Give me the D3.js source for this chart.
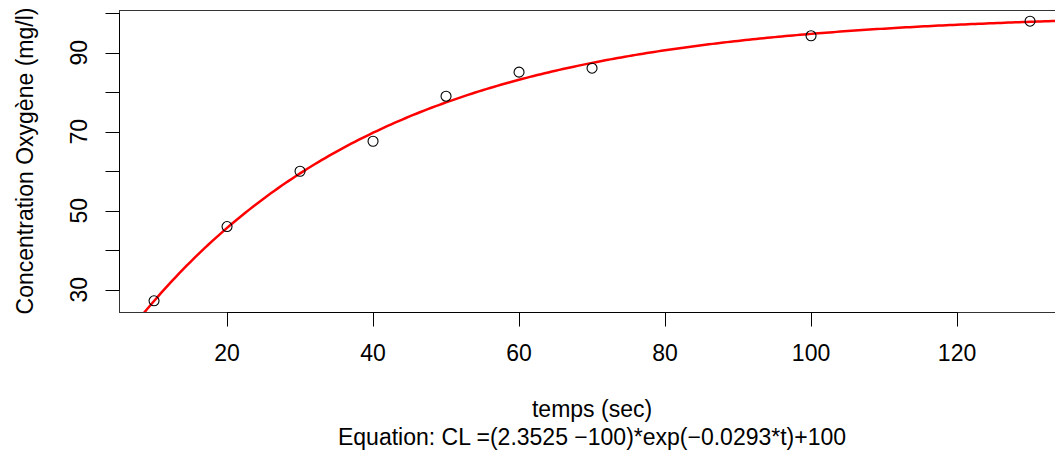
<!DOCTYPE html>
<html>
<head>
<meta charset="utf-8">
<script src="https://cdn.jsdelivr.net/npm/d3@7"></script>
<style>
  body { margin: 0; background: #fff; }
  text { font-family: "Liberation Sans", Arial, sans-serif; fill: #000; }
</style>
</head>
<body>
<div id="chart"></div>
<script>
// Measured points: time (sec) and oxygen concentration (mg/l)
const temps = [10, 20, 30, 40, 50, 60, 70, 100, 130];
const concentration = [27.2, 46, 60, 67.6, 79, 85.1, 86.1, 94.3, 98];

// Fitted model shown under the chart: CL = (c0 - cInf)*exp(-k*t) + cInf
const c0 = 2.3525;
const cInf = 100;
const k = 0.0293;

// Axis ticks
const xTicks = [20, 40, 60, 80, 100, 120];
const yTicks = [30, 40, 50, 60, 70, 80, 90, 100];
const yLabels = [30, 50, 70, 90];

const W = 1055, H = 455;
const fontSize = 23;
// plot region (right side runs past the picture edge)
const plotLeft = 119, plotTop = 10, plotBottom = 312;

// R style 4% extension of the data range
function extend(ext) {
    const r = ext[1] - ext[0];
    return [ext[0] - 0.04 * r, ext[1] + 0.04 * r];
}
const xDom = extend(d3.extent(temps));
const yDom = extend(d3.extent(concentration));

// x scale: 7.3 px per second, as in the picture
const pxPerSec = 7.3;
const plotRight = plotLeft + (xDom[1] - xDom[0]) * pxPerSec;

const x = d3.scaleLinear().domain(xDom).range([plotLeft, plotRight]);
const y = d3.scaleLinear().domain(yDom).range([plotBottom, plotTop]);

const svg = d3.select("#chart").append("svg")
    .attr("width", W)
    .attr("height", H);

svg.append("defs").append("clipPath")
    .attr("id", "plotclip")
    .append("rect")
    .attr("x", plotLeft).attr("y", plotTop)
    .attr("width", plotRight - plotLeft).attr("height", plotBottom - plotTop);

// fitted curve
const curveData = d3.range(0, 141, 0.5).map(t => [t, (c0 - cInf) * Math.exp(-k * t) + cInf]);
const line = d3.line().x(d => x(d[0])).y(d => y(d[1]));

svg.append("path")
    .datum(curveData)
    .attr("clip-path", "url(#plotclip)")
    .attr("d", line)
    .attr("fill", "none")
    .attr("stroke", "#ff0000")
    .attr("stroke-width", 2.5);

// points
svg.selectAll(".pt")
    .data(temps.map((t, i) => [t, concentration[i]]))
    .enter().append("circle")
    .attr("class", "pt")
    .attr("cx", d => x(d[0]))
    .attr("cy", d => y(d[1]))
    .attr("r", 5)
    .attr("fill", "none")
    .attr("stroke", "#000")
    .attr("stroke-width", 1.1);

// box
svg.append("rect")
    .attr("x", plotLeft + 0.5).attr("y", plotTop + 0.5)
    .attr("width", plotRight - plotLeft).attr("height", plotBottom - plotTop)
    .attr("fill", "none")
    .attr("stroke", "#333")
    .attr("stroke-width", 1);

// x axis
const xAxis = svg.append("g").attr("transform", `translate(0,${plotBottom + 0.5})`);
xAxis.append("line")
    .attr("x1", x(xTicks[0])).attr("x2", x(xTicks[xTicks.length - 1]))
    .attr("stroke", "#000");
xAxis.selectAll(".xt").data(xTicks).enter().append("line")
    .attr("x1", d => Math.round(x(d)) + 0.5).attr("x2", d => Math.round(x(d)) + 0.5)
    .attr("y1", 0).attr("y2", 14)
    .attr("stroke", "#000");
xAxis.selectAll(".xl").data(xTicks).enter().append("text")
    .attr("x", d => x(d))
    .attr("y", 48.5)
    .attr("text-anchor", "middle")
    .attr("font-size", fontSize)
    .text(d => d);

// y axis
const yAxis = svg.append("g").attr("transform", `translate(${plotLeft + 0.5},0)`);
yAxis.append("line")
    .attr("y1", y(yTicks[0])).attr("y2", y(yTicks[yTicks.length - 1]))
    .attr("stroke", "#000");
yAxis.selectAll(".yt").data(yTicks).enter().append("line")
    .attr("y1", d => Math.round(y(d)) + 0.5).attr("y2", d => Math.round(y(d)) + 0.5)
    .attr("x1", 0).attr("x2", -14)
    .attr("stroke", "#000");
yAxis.selectAll(".yl").data(yLabels).enter().append("text")
    .attr("transform", d => `translate(-33,${y(d)}) rotate(-90)`)
    .attr("text-anchor", "middle")
    .attr("font-size", fontSize)
    .text(d => d);

// titles
const cx = (plotLeft + plotRight) / 2;
svg.append("text")
    .attr("x", cx).attr("y", 417)
    .attr("text-anchor", "middle")
    .attr("font-size", fontSize)
    .text("temps (sec)");

svg.append("text")
    .attr("x", cx).attr("y", 445)
    .attr("text-anchor", "middle")
    .attr("font-size", fontSize)
    .text(`Equation: CL =(${c0} \u2212${cInf})*exp(\u2212${k}*t)+${cInf}`);

svg.append("text")
    .attr("transform", `translate(33,${(plotTop + plotBottom) / 2}) rotate(-90)`)
    .attr("text-anchor", "middle")
    .attr("font-size", fontSize)
    .text("Concentration Oxygène (mg/l)");
</script>
</body>
</html>
